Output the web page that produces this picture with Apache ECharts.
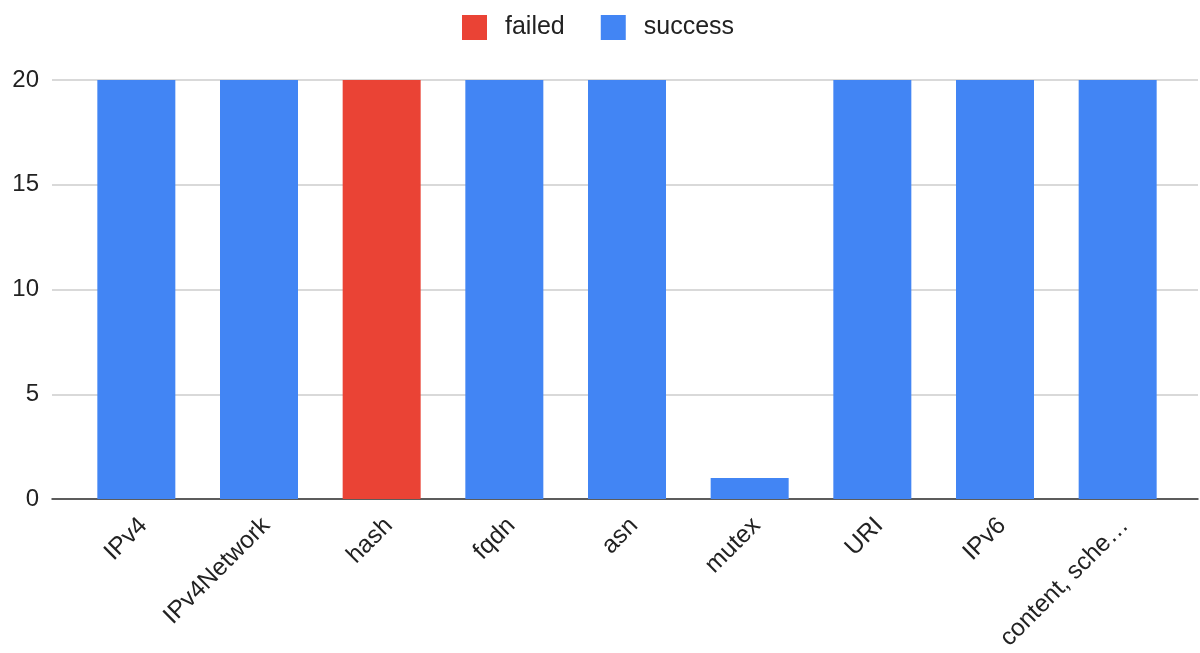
<!DOCTYPE html>
<html>
<head>
<meta charset="utf-8">
<script src="https://cdn.jsdelivr.net/npm/echarts@6/dist/echarts.min.js"></script>
<style>html,body{margin:0;padding:0;background:#fff}#c{width:1200px;height:653px}</style>
</head>
<body>
<div id="c"></div>
<script>
const categories = ['IPv4', 'IPv4Network', 'hash', 'fqdn', 'asn', 'mutex', 'URI', 'IPv6', 'content, sche\u2026'];
const failed = [0, 0, 20, 0, 0, 0, 0, 0, 0];
const success = [20, 20, 0, 20, 20, 1, 20, 20, 20];
const yMin = 0, yMax = 20, yStep = 5;

const FONT = '"Liberation Sans", Arial, sans-serif';
const chart = echarts.init(document.getElementById('c'), null, {renderer: 'canvas'});
chart.setOption({
  animation: false,
  textStyle: {fontFamily: FONT},
  legend: {
    top: 10, left: 457,
    itemWidth: 25, itemHeight: 25, itemGap: 36,
    icon: 'rect',
    data: ['failed', 'success'],
    textStyle: {fontSize: 25, color: '#222', fontFamily: FONT, padding: [0, 0, 0, 13]}
  },
  grid: [
    {left: 52, right: 2, top: 80, bottom: 154, containLabel: false, outerBoundsMode: 'none'},
    {left: 75, right: 21, top: 80, bottom: 154, containLabel: false, outerBoundsMode: 'none'}
  ],
  xAxis: [
    {gridIndex: 0, type: 'value', min: 0, max: 1, axisLabel: {show: false}, axisTick: {show: false},
     splitLine: {show: false}, axisLine: {show: true, lineStyle: {color: '#333', width: 1.5}}},
    {gridIndex: 1, type: 'category', data: categories, axisTick: {show: false},
     axisLine: {show: false},
     axisLabel: {rotate: 45, fontSize: 24.5, color: '#222', fontFamily: FONT, margin: 30,
                 padding: [0, -10, 0, 0], interval: 0}}
  ],
  yAxis: [
    {gridIndex: 0, type: 'value', min: yMin, max: yMax, interval: yStep,
     axisLine: {show: false}, axisTick: {show: false},
     axisLabel: {fontSize: 24, color: '#222', fontFamily: FONT, margin: 13},
     splitLine: {lineStyle: {color: '#cccccc', width: 1.5}}},
    {gridIndex: 1, type: 'value', min: yMin, max: yMax, interval: yStep, show: false}
  ],
  series: [
    {name: 'failed', type: 'bar', stack: 's', xAxisIndex: 1, yAxisIndex: 1, data: failed,
     barWidth: 78, itemStyle: {color: '#ea4335'}},
    {name: 'success', type: 'bar', stack: 's', xAxisIndex: 1, yAxisIndex: 1, data: success,
     barWidth: 78, itemStyle: {color: '#4285f4'}}
  ]
});
</script>
</body>
</html>
